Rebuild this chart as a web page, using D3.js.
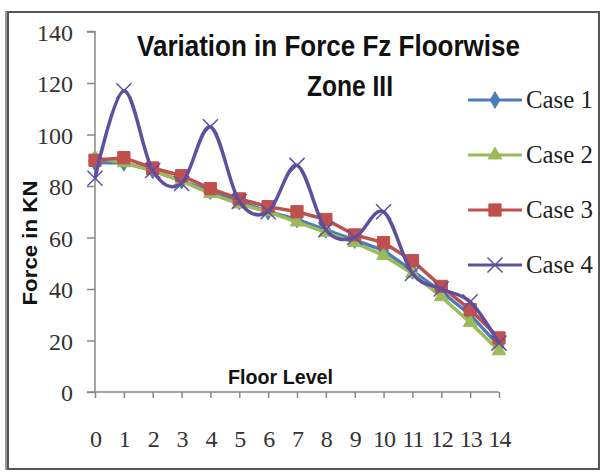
<!DOCTYPE html>
<html>
<head>
<meta charset="utf-8">
<script src="https://cdn.jsdelivr.net/npm/d3@7"></script>
<style>
  body { margin: 0; background: #fff; }
  svg { display: block; }
</style>
</head>
<body>
<div id="chart"></div>
<script>
// data
const floors = [0, 1, 2, 3, 4, 5, 6, 7, 8, 9, 10, 11, 12, 13, 14];
const case1 = [89, 89, 86, 82, 78, 74, 70, 67, 63, 59, 55, 47, 39, 30, 18];
const case2 = [91, 89, 86, 82, 77, 73, 70, 66, 62, 58, 53, 46, 37, 27, 16];
const case3 = [90, 91, 87, 84, 79, 75, 72, 70, 67, 61, 58, 51, 41, 32, 21];
const case4 = [83, 117, 86, 81, 103, 74, 70, 88, 63, 60, 70, 46, 40, 35, 19];
const yTicks = [0, 20, 40, 60, 80, 100, 120, 140];

const series = [
    {name: "Case 1", values: case1, color: "#4a7ebb", marker: "diamond"},
    {name: "Case 2", values: case2, color: "#9bbb59", marker: "triangle"},
    {name: "Case 3", values: case3, color: "#c0504d", marker: "square"},
    {name: "Case 4", values: case4, color: "#5e509e", marker: "cross"}
];

const SERIF = '"Liberation Serif", "Times New Roman", serif';
const SANS = '"Liberation Sans", Arial, sans-serif';

const W = 602, H = 472;
const svg = d3.select("#chart").append("svg")
    .attr("width", W)
    .attr("height", H);

// outer frame
svg.append("rect")
    .attr("x", 8).attr("y", 12)
    .attr("width", 591).attr("height", 457)
    .attr("fill", "#fff")
    .attr("stroke", "#555")
    .attr("stroke-width", 2);
svg.append("line")
    .attr("x1", 6).attr("x2", 6).attr("y1", 11).attr("y2", 470)
    .attr("stroke", "#999").attr("stroke-width", 2);

const plot = {left: 95, right: 499, top: 31.5, bottom: 392};

const x = d3.scaleLinear()
    .domain([0, 14])
    .range([plot.left, plot.right]);

const y = d3.scaleLinear()
    .domain([0, 140])
    .range([plot.bottom, plot.top]);

// y axis
const yAxis = svg.append("g")
    .attr("transform", `translate(${plot.left},0)`)
    .call(d3.axisLeft(y).tickValues(yTicks).tickSize(8).tickPadding(14));
yAxis.select(".domain").attr("stroke", "#888").attr("stroke-width", 1.5)
    .attr("d", `M-8,${plot.top}H0V${plot.bottom}`);
yAxis.selectAll(".tick line").attr("stroke", "#888").attr("stroke-width", 1.5);
yAxis.selectAll(".tick text")
    .style("font-family", SERIF)
    .style("font-size", "24px")
    .attr("dy", "0.36em")
    .attr("fill", "#333");

// x axis
const xAxis = svg.append("g")
    .attr("transform", `translate(0,${plot.bottom})`)
    .call(d3.axisBottom(x).tickValues(floors).tickSize(6).tickPadding(32));
xAxis.select(".domain").attr("stroke", "#888").attr("stroke-width", 1.5)
    .attr("d", `M${plot.left - 8},0H${plot.right}`);
xAxis.selectAll(".tick line").attr("stroke", "#888").attr("stroke-width", 1.5);
xAxis.selectAll(".tick text")
    .style("font-family", SERIF)
    .style("font-size", "24px")
    .style("letter-spacing", "-1px")
    .attr("fill", "#333");

// lines
const straight = d3.line()
    .x((d, i) => x(floors[i]))
    .y(d => y(d));
const smooth = d3.line()
    .x((d, i) => x(floors[i]))
    .y(d => y(d))
    .curve(d3.curveCardinal.tension(0));

const symbolFor = {
    diamond: d3.symbol().type(d3.symbolDiamond).size(80),
    triangle: d3.symbol().type(d3.symbolTriangle).size(80),
    square: d3.symbol().type(d3.symbolSquare).size(150),
    cross: d3.symbol().type(d3.symbolX).size(150)
};

function drawMarker(g, s, cx, cy) {
    const p = g.append("path")
        .attr("d", symbolFor[s.marker]())
        .attr("transform", `translate(${cx},${cy})`);
    if (s.marker === "cross") {
        p.attr("fill", "none").attr("stroke", s.color).attr("stroke-width", 1.5);
    } else {
        p.attr("fill", s.color).attr("stroke", s.color).attr("stroke-width", 1);
    }
}

const marks = svg.append("g");
series.forEach(s => {
    marks.append("path")
        .datum(s.values)
        .attr("fill", "none")
        .attr("stroke", s.color)
        .attr("stroke-width", 3.5)
        .attr("d", s.marker === "cross" ? smooth : straight);
    s.values.forEach((v, i) => drawMarker(marks, s, x(floors[i]), y(v)));
});

// title
svg.append("text")
    .attr("x", 137).attr("y", 56)
    .attr("textLength", 383)
    .attr("lengthAdjust", "spacingAndGlyphs")
    .style("font-family", SANS).style("font-weight", "bold")
    .style("font-size", "29px")
    .attr("fill", "#111")
    .text("Variation in Force Fz Floorwise");
svg.append("text")
    .attr("x", 307).attr("y", 96)
    .attr("textLength", 86)
    .attr("lengthAdjust", "spacingAndGlyphs")
    .style("font-family", SANS).style("font-weight", "bold")
    .style("font-size", "29px")
    .attr("fill", "#111")
    .text("Zone III");

// axis titles
svg.append("text")
    .attr("transform", "translate(37,243) rotate(-90)")
    .attr("text-anchor", "middle")
    .attr("textLength", 125)
    .attr("lengthAdjust", "spacingAndGlyphs")
    .style("font-family", SANS).style("font-weight", "bold")
    .style("font-size", "20px")
    .attr("fill", "#111")
    .text("Force in KN");
svg.append("text")
    .attr("x", 228).attr("y", 384)
    .attr("textLength", 105)
    .attr("lengthAdjust", "spacingAndGlyphs")
    .style("font-family", SANS).style("font-weight", "bold")
    .style("font-size", "21px")
    .attr("fill", "#111")
    .text("Floor Level");

// legend
const legend = svg.append("g");
series.forEach((s, i) => {
    const ly = 100 + i * 55;
    legend.append("line")
        .attr("x1", 468).attr("x2", 522)
        .attr("y1", ly).attr("y2", ly)
        .attr("stroke", s.color)
        .attr("stroke-width", 3);
    drawMarker(legend, s, 495, ly);
    legend.append("text")
        .attr("x", 526).attr("y", ly + 8)
        .attr("textLength", 67)
        .attr("lengthAdjust", "spacingAndGlyphs")
        .style("font-family", SERIF)
        .style("font-size", "25px")
        .attr("fill", "#222")
        .text(s.name);
});
</script>
</body>
</html>
